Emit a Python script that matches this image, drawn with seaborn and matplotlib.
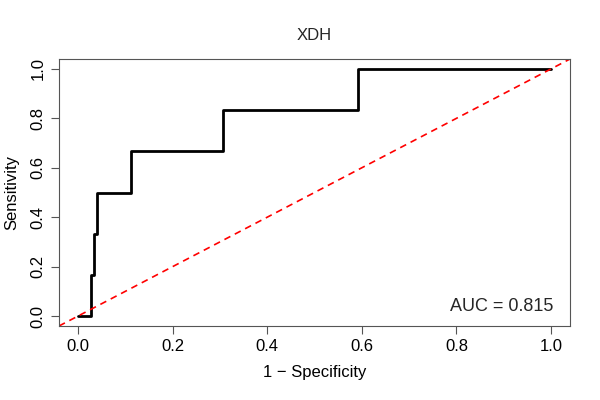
import matplotlib
matplotlib.use("Agg")
import matplotlib.pyplot as plt
import seaborn as sns
import pandas as pd

# ROC step points (1 - specificity, sensitivity)
fpr = [0.0, 0.028, 0.028, 0.033, 0.033, 0.040, 0.040, 0.112, 0.112, 0.307, 0.307, 0.591, 0.591, 1.0]
tpr = [0.0, 0.0, 0.167, 0.167, 0.333, 0.333, 0.5, 0.5, 0.667, 0.667, 0.833, 0.833, 1.0, 1.0]
ticks = [0.0, 0.2, 0.4, 0.6, 0.8, 1.0]
auc = 0.815

sns.set_style("ticks")
plt.rcParams['font.family'] = ['Liberation Sans', 'DejaVu Sans']

fig = plt.figure(figsize=(6, 4), dpi=100)
ax = fig.add_axes([59 / 600, 74 / 400, 511 / 600, 267 / 400])

df = pd.DataFrame({"fpr": fpr, "tpr": tpr})
sns.lineplot(data=df, x="fpr", y="tpr", ax=ax, color="black", linewidth=2, sort=False, estimator=None)
ax.axline((0, 0), (1, 1), color="red", linestyle=(0, (4, 3)), linewidth=1.2)

ax.set_xlim(-0.04, 1.04)
ax.set_ylim(-0.04, 1.04)
ax.set_xticks(ticks)
ax.set_yticks(ticks)
ax.set_xticklabels([f"{t:.1f}" for t in ticks], fontsize=12, color="black")
ax.set_yticklabels([f"{t:.1f}" for t in ticks], fontsize=12, rotation=90, va="center", color="black")
ax.set_xlabel("1 \u2212 Specificity", fontsize=12, labelpad=8, color="black")
ax.set_ylabel("Sensitivity", fontsize=12, labelpad=8, color="black")
ax.set_title("XDH", fontsize=12, pad=14)
ax.text(1.005, 0.04, f"AUC = {auc:.3f}", ha="right", va="center", fontsize=13)
for s in ax.spines.values():
    s.set_color("#555555")
    s.set_visible(True)
ax.tick_params(length=6, color="#555555")

fig.savefig("out.png", dpi=100)
